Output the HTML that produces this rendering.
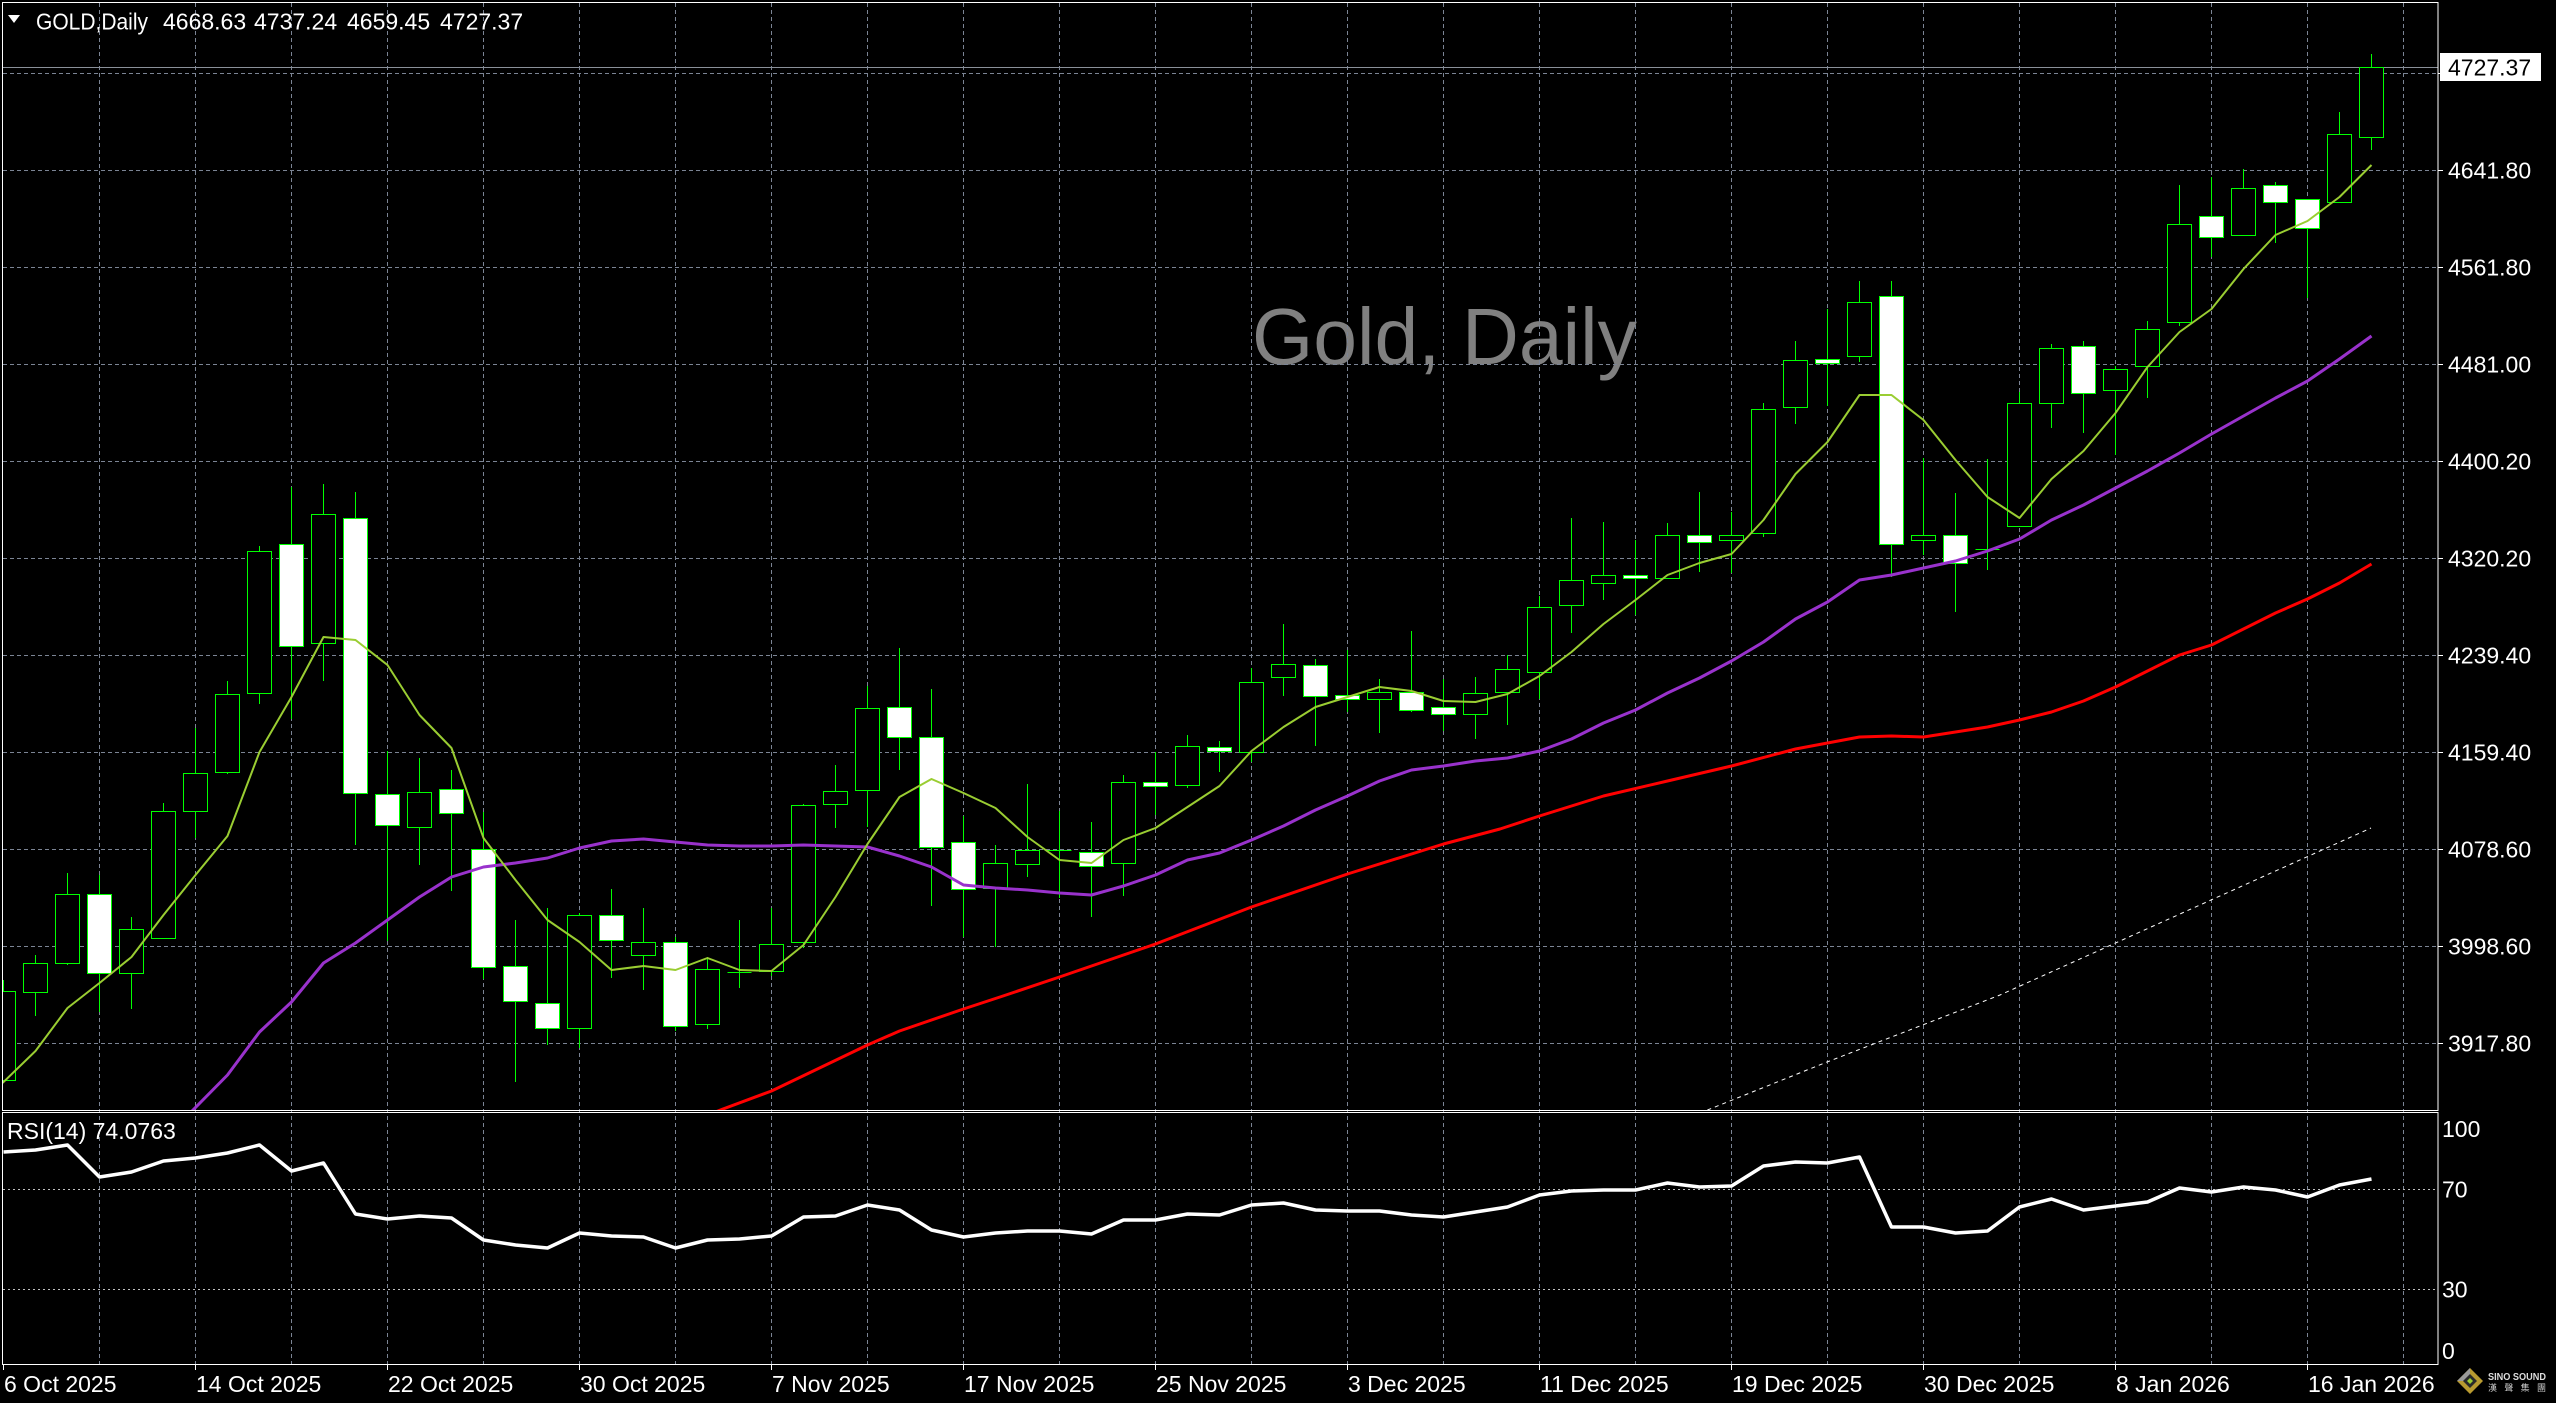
<!DOCTYPE html>
<html><head><meta charset="utf-8"><title>GOLD Daily</title>
<style>html,body{margin:0;padding:0;background:#000;overflow:hidden}svg{display:block}</style>
</head><body>
<svg xmlns="http://www.w3.org/2000/svg" width="2556" height="1403" viewBox="0 0 2556 1403">
<defs>
<clipPath id="cm"><rect x="3" y="3" width="2435" height="1107"/></clipPath>
<clipPath id="cr"><rect x="3" y="1113" width="2435" height="251"/></clipPath>
</defs>
<rect width="2556" height="1403" fill="#000"/>

<!-- watermark -->
<text x="1252" y="364" font-family="Liberation Sans, Arial, sans-serif" font-size="80" fill="#808080" textLength="385" lengthAdjust="spacingAndGlyphs">Gold, Daily</text>

<!-- grid -->
<g stroke="#7b8494" stroke-width="1" stroke-dasharray="4 3" fill="none" shape-rendering="crispEdges">
<path d="M3 73.5H2438M3 170.5H2438M3 267.5H2438M3 364.5H2438M3 461.5H2438M3 558.5H2438M3 655.5H2438M3 752.5H2438M3 849.5H2438M3 946.5H2438M3 1043.5H2438"/>
<path d="M99.5 3V1364M195.5 3V1364M291.5 3V1364M387.5 3V1364M483.5 3V1364M579.5 3V1364M675.5 3V1364M771.5 3V1364M867.5 3V1364M963.5 3V1364M1059.5 3V1364M1155.5 3V1364M1251.5 3V1364M1347.5 3V1364M1443.5 3V1364M1539.5 3V1364M1635.5 3V1364M1731.5 3V1364M1827.5 3V1364M1923.5 3V1364M2019.5 3V1364M2115.5 3V1364M2211.5 3V1364M2307.5 3V1364M2403.5 3V1364"/>
</g>
<!-- RSI levels -->
<path d="M3 1189.5H2438M3 1289.5H2438" stroke="#c0c0c0" stroke-width="1" stroke-dasharray="2 3" shape-rendering="crispEdges"/>

<!-- current price line -->
<path d="M3 67.5H2438" stroke="#8a9099" stroke-width="1" shape-rendering="crispEdges"/>

<!-- candles -->
<g clip-path="url(#cm)" shape-rendering="crispEdges">
<path stroke="#00ff00" stroke-width="1" fill="none" d="M3.5 980V1080M35.5 955V1016M67.5 873V965M99.5 875V1012M131.5 917V1009M163.5 803V939M195.5 728V838M227.5 681V774M259.5 546V704M291.5 487V719M323.5 484V681M355.5 492V845M387.5 751V941M419.5 758V865M451.5 770V891M483.5 812V979M515.5 920V1082M547.5 908V1045M579.5 913V1048M611.5 889V978M643.5 908V990M675.5 937V1031M707.5 957V1029M739.5 920V988M771.5 908V976M803.5 804V948M835.5 765V828M867.5 686V827M899.5 648V770M931.5 689V906M963.5 816V937M995.5 845V947M1027.5 784V877M1059.5 811V898M1091.5 822V917M1123.5 775V896M1155.5 752V815M1187.5 735V788M1219.5 741V772M1251.5 668V762M1283.5 624V696M1315.5 659V746M1347.5 650V712M1379.5 679V733M1411.5 631V712M1443.5 679V731M1475.5 677V739M1507.5 655V725M1539.5 596V699M1571.5 518V633M1603.5 522V600M1635.5 540V615M1667.5 523V578M1699.5 492V572M1731.5 512V573M1763.5 403V537M1795.5 341V424M1827.5 309V406M1859.5 281V362M1891.5 281V577M1923.5 458V555M1955.5 493V612M1987.5 459V570M2019.5 392V526M2051.5 344V428M2083.5 341V433M2115.5 366V455M2147.5 321V398M2179.5 185V326M2211.5 177V257M2243.5 169V235M2275.5 182V243M2307.5 199V298M2339.5 112V202M2371.5 54V150"/>
<path stroke="#00ff00" stroke-width="1" fill="#000" d="M-8.5 991.5h24v89h-24zM23.5 963.5h24v29h-24zM55.5 894.5h24v69h-24zM119.5 929.5h24v44h-24zM151.5 811.5h24v127h-24zM183.5 773.5h24v38h-24zM215.5 694.5h24v78h-24zM247.5 551.5h24v142h-24zM311.5 514.5h24v129h-24zM407.5 792.5h24v35h-24zM567.5 915.5h24v113h-24zM631.5 942.5h24v13h-24zM695.5 969.5h24v55h-24zM759.5 944.5h24v27h-24zM791.5 805.5h24v137h-24zM823.5 791.5h24v13h-24zM855.5 708.5h24v82h-24zM983.5 863.5h24v25h-24zM1015.5 850.5h24v14h-24zM1111.5 782.5h24v81h-24zM1175.5 746.5h24v39h-24zM1239.5 682.5h24v70h-24zM1271.5 664.5h24v13h-24zM1367.5 692.5h24v7h-24zM1463.5 693.5h24v21h-24zM1495.5 669.5h24v23h-24zM1527.5 607.5h24v65h-24zM1559.5 580.5h24v25h-24zM1591.5 575.5h24v8h-24zM1655.5 535.5h24v43h-24zM1719.5 535.5h24v5h-24zM1751.5 409.5h24v124h-24zM1783.5 360.5h24v47h-24zM1847.5 302.5h24v54h-24zM1911.5 535.5h24v5h-24zM2007.5 403.5h24v123h-24zM2039.5 348.5h24v55h-24zM2103.5 369.5h24v21h-24zM2135.5 329.5h24v37h-24zM2167.5 224.5h24v98h-24zM2231.5 188.5h24v47h-24zM2327.5 134.5h24v68h-24zM2359.5 67.5h24v70h-24z"/>
<path stroke="#00ff00" stroke-width="1" fill="#fff" d="M87.5 894.5h24v79h-24zM279.5 544.5h24v102h-24zM343.5 518.5h24v275h-24zM375.5 794.5h24v31h-24zM439.5 789.5h24v24h-24zM471.5 849.5h24v118h-24zM503.5 966.5h24v35h-24zM535.5 1003.5h24v25h-24zM599.5 915.5h24v25h-24zM663.5 942.5h24v84h-24zM887.5 707.5h24v30h-24zM919.5 737.5h24v110h-24zM951.5 842.5h24v47h-24zM1079.5 852.5h24v14h-24zM1143.5 782.5h24v4h-24zM1207.5 747.5h24v4h-24zM1303.5 665.5h24v31h-24zM1335.5 695.5h24v4h-24zM1399.5 692.5h24v18h-24zM1431.5 707.5h24v7h-24zM1623.5 575.5h24v3h-24zM1687.5 535.5h24v7h-24zM1815.5 359.5h24v4h-24zM1879.5 296.5h24v248h-24zM1943.5 535.5h24v28h-24zM2071.5 346.5h24v47h-24zM2199.5 216.5h24v21h-24zM2263.5 185.5h24v17h-24zM2295.5 199.5h24v29h-24z"/>
<path stroke="#00ff00" stroke-width="1" d="M727.5 972.5h24M1047.5 850.5h24M1975.5 549.5h24"/>
</g>

<!-- moving averages -->
<g clip-path="url(#cm)" fill="none" stroke-linejoin="round">
<polyline stroke="#ff0000" stroke-width="3" points="680,1126 723,1109 771.5,1091 867.5,1045 899.5,1031 963.5,1009 1000,997 1059.5,977 1155.5,944 1251.5,907 1347.5,874 1443.5,844 1500,829 1539.5,816 1603.5,796 1667.5,781 1731.5,766 1795.5,749 1859.5,737 1891.5,736 1923.5,737 1955.5,732 1987.5,727 2019.5,720 2051.5,712 2083.5,701 2115.5,687 2147.5,671 2179.5,655 2211.5,645 2243.5,629 2275.5,613 2307.5,599 2339.5,583 2371.5,564"/>
<polyline stroke="#9932cc" stroke-width="3" points="160,1144 193,1110 227.5,1075 259.5,1032 291.5,1002 323.5,963 355.5,943 387.5,920 419.5,897 451.5,877 483.5,867 515.5,863 547.5,858 579.5,848 611.5,841 643.5,839 675.5,842 707.5,845 739.5,846 771.5,846 803.5,845 835.5,846 867.5,847 899.5,856 931.5,867 963.5,885 995.5,888 1027.5,890 1059.5,893 1091.5,895 1123.5,886 1155.5,875 1187.5,860 1219.5,853 1251.5,840 1283.5,826 1315.5,810 1347.5,796 1379.5,781 1411.5,770 1443.5,766 1475.5,761 1507.5,758 1539.5,751 1571.5,739 1603.5,723 1635.5,710 1667.5,693 1699.5,678 1731.5,661 1763.5,642 1795.5,619 1827.5,602 1859.5,580 1891.5,575 1923.5,568 1955.5,561 1987.5,551 2019.5,539 2051.5,520 2083.5,505 2115.5,488 2147.5,471 2179.5,453 2211.5,434 2243.5,416 2275.5,398 2307.5,381 2339.5,359 2371.5,336"/>
<polyline stroke="#9acd32" stroke-width="2" points="0,1085 3.5,1082 35.5,1051 67.5,1008 99.5,983 131.5,957 163.5,915 195.5,875 227.5,836 259.5,752 291.5,697 323.5,637 355.5,640 387.5,665 419.5,715 451.5,748 483.5,838 515.5,880 547.5,920 579.5,942 611.5,970 643.5,966 675.5,970 707.5,958 739.5,970 771.5,971 803.5,945 835.5,897 867.5,844 899.5,797 931.5,779 963.5,793 995.5,808 1027.5,837 1059.5,860 1091.5,863 1123.5,840 1155.5,828 1187.5,807 1219.5,786 1251.5,751 1283.5,727 1315.5,707 1347.5,697 1379.5,687 1411.5,691 1443.5,701 1475.5,702 1507.5,694 1539.5,676 1571.5,652 1603.5,624 1635.5,600 1667.5,575 1699.5,563 1731.5,554 1763.5,520 1795.5,474 1827.5,442 1859.5,395 1891.5,395 1923.5,420 1955.5,460 1987.5,497 2019.5,518 2051.5,479 2083.5,451 2115.5,413 2147.5,367 2179.5,332 2211.5,309 2243.5,269 2275.5,235 2307.5,221 2339.5,197 2371.5,165"/>
<polyline stroke="#ffffff" stroke-width="1" stroke-dasharray="4 4" points="1700,1113 1827,1062 2000,995 2371,828"/>
</g>

<!-- RSI line -->
<g clip-path="url(#cr)">
<polyline fill="none" stroke="#ffffff" stroke-width="3.5" stroke-linejoin="round" points="3.5,1152 35.5,1150 67.5,1145 99.5,1177 131.5,1172 163.5,1161 195.5,1158 227.5,1153 259.5,1145 291.5,1171 323.5,1163 355.5,1214 387.5,1219 419.5,1216 451.5,1218 483.5,1240 515.5,1245 547.5,1248 579.5,1233 611.5,1236 643.5,1237 675.5,1248 707.5,1240 739.5,1239 771.5,1236 803.5,1217 835.5,1216 867.5,1205 899.5,1210 931.5,1230 963.5,1237 995.5,1233 1027.5,1231 1059.5,1231 1091.5,1234 1123.5,1220 1155.5,1220 1187.5,1214 1219.5,1215 1251.5,1205 1283.5,1203 1315.5,1210 1347.5,1211 1379.5,1211 1411.5,1215 1443.5,1217 1475.5,1212 1507.5,1207 1539.5,1195 1571.5,1191 1603.5,1190 1635.5,1190 1667.5,1183 1699.5,1187 1731.5,1186 1763.5,1166 1795.5,1162 1827.5,1163 1859.5,1157 1891.5,1227 1923.5,1227 1955.5,1233 1987.5,1231 2019.5,1207 2051.5,1199 2083.5,1210 2115.5,1206 2147.5,1202 2179.5,1188 2211.5,1192 2243.5,1187 2275.5,1190 2307.5,1197 2339.5,1185 2371.5,1179"/>
</g>

<!-- frames -->
<g fill="none" stroke="#ffffff" stroke-width="1" shape-rendering="crispEdges">
<rect x="2.5" y="2.5" width="2435.5" height="1108"/>
<rect x="2.5" y="1112.5" width="2435.5" height="252"/>
<path d="M2438 73.5h5M2438 170.5h5M2438 267.5h5M2438 364.5h5M2438 461.5h5M2438 558.5h5M2438 655.5h5M2438 752.5h5M2438 849.5h5M2438 946.5h5M2438 1043.5h5"/>
<path d="M3.5 1365V1370M195.5 1365V1370M387.5 1365V1370M579.5 1365V1370M771.5 1365V1370M963.5 1365V1370M1155.5 1365V1370M1347.5 1365V1370M1539.5 1365V1370M1731.5 1365V1370M1923.5 1365V1370M2115.5 1365V1370M2307.5 1365V1370"/>
</g>

<!-- texts -->
<g font-family="Liberation Sans, Arial, sans-serif" font-size="23" fill="#ffffff">
<polygon points="8,15 20,15 14,23" fill="#ffffff"/>
<text x="36" y="29.5" textLength="112" lengthAdjust="spacingAndGlyphs">GOLD,Daily</text>
<text x="163" y="29.5">4668.63</text>
<text x="254" y="29.5">4737.24</text>
<text x="347" y="29.5">4659.45</text>
<text x="440" y="29.5">4727.37</text>

<text x="7" y="1139">RSI(14) 74.0763</text>

<text x="2448" y="178.5">4641.80</text>
<text x="2448" y="275.5">4561.80</text>
<text x="2448" y="372.5">4481.00</text>
<text x="2448" y="469.5">4400.20</text>
<text x="2448" y="566.5">4320.20</text>
<text x="2448" y="663.5">4239.40</text>
<text x="2448" y="760.5">4159.40</text>
<text x="2448" y="857.5">4078.60</text>
<text x="2448" y="954.5">3998.60</text>
<text x="2448" y="1051.5">3917.80</text>

<rect x="2440" y="53" width="101" height="28" fill="#ffffff"/>
<text x="2448" y="75.5" fill="#000000">4727.37</text>

<text x="2442" y="1137">100</text>
<text x="2442" y="1197.5">70</text>
<text x="2442" y="1297.5">30</text>
<text x="2442" y="1359">0</text>

<text x="4" y="1392">6 Oct 2025</text>
<text x="196" y="1392">14 Oct 2025</text>
<text x="388" y="1392">22 Oct 2025</text>
<text x="580" y="1392">30 Oct 2025</text>
<text x="772" y="1392">7 Nov 2025</text>
<text x="964" y="1392">17 Nov 2025</text>
<text x="1156" y="1392">25 Nov 2025</text>
<text x="1348" y="1392">3 Dec 2025</text>
<text x="1540" y="1392">11 Dec 2025</text>
<text x="1732" y="1392">19 Dec 2025</text>
<text x="1924" y="1392">30 Dec 2025</text>
<text x="2116" y="1392">8 Jan 2026</text>
<text x="2308" y="1392">16 Jan 2026</text>
</g>

<!-- logo -->
<g>
<polygon points="2470,1368 2483,1381 2470,1394 2457,1381" fill="#b89a30"/>
<polygon points="2470,1368 2457,1381 2463.5,1381 2470,1374.5" fill="#9a9a9a"/>
<polygon points="2470,1374 2477,1381 2470,1388 2463,1381" fill="#2a2a2a"/>
<polygon points="2470,1378 2473,1381 2470,1384 2467,1381" fill="#9acd32"/>
<text x="2488" y="1380" font-family="Liberation Sans, Arial, sans-serif" font-size="10" font-weight="bold" fill="#dddddd" textLength="58" lengthAdjust="spacingAndGlyphs">SINO SOUND</text>
<text x="2488" y="1391" font-family="Liberation Sans, 'Noto Sans CJK TC', sans-serif" font-size="9" fill="#cccccc" textLength="58" lengthAdjust="spacing">漢聲集團</text>
</g>
</svg>
</body></html>
